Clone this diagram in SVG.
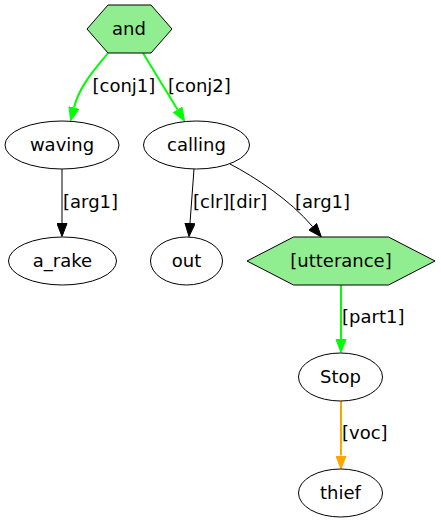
<svg xmlns="http://www.w3.org/2000/svg" width="441" height="523" viewBox="0 0 441 523">
<style>
text{font-family:"DejaVu Sans","Liberation Sans",sans-serif;font-size:18px;fill:#000}
.n{text-anchor:middle}
.node ellipse,.node polygon{stroke:#000;stroke-width:1}
.node ellipse{fill:#fff}
.hex{fill:#90ee90}
.e{fill:none;stroke-width:1}
.black{stroke:#000}
.green{stroke:#00ff00;stroke-width:2}
.orange{stroke:#ffa500;stroke-width:2}
</style>
<defs>
<marker id="ab" markerUnits="userSpaceOnUse" markerWidth="14" markerHeight="11" refX="0" refY="5.5" orient="auto" viewBox="0 0 14 11"><path d="M0.5,0.5 L13.5,5.5 L0.5,10.5 z" fill="#000" stroke="#000"/></marker>
<marker id="ag" markerUnits="userSpaceOnUse" markerWidth="14" markerHeight="11" refX="0" refY="5.5" orient="auto" viewBox="0 0 14 11"><path d="M0.5,0.5 L13.5,5.5 L0.5,10.5 z" fill="#00ff00" stroke="#00ff00"/></marker>
<marker id="ao" markerUnits="userSpaceOnUse" markerWidth="14" markerHeight="11" refX="0" refY="5.5" orient="auto" viewBox="0 0 14 11"><path d="M0.5,0.5 L13.5,5.5 L0.5,10.5 z" fill="#ffa500" stroke="#ffa500"/></marker>
</defs>
<rect width="441" height="523" fill="#fff"/>
<g id="edges">
<path class="e green" d="M108,53 C98,66 80,84 74,107.5" marker-end="url(#ag)"/>
<text x="92.5" y="92">[conj1]</text>
<path class="e green" d="M143,53 L177.5,109.5" marker-end="url(#ag)"/>
<text x="168" y="92">[conj2]</text>
<path class="e black" d="M62,169 L62,223" marker-end="url(#ab)"/>
<text x="63" y="208">[arg1]</text>
<path class="e black" d="M194,169 L190,223" marker-end="url(#ab)"/>
<text x="193" y="208">[clr][dir]</text>
<path class="e black" d="M230,164 C255,177 290,200 312.5,226.5" marker-end="url(#ab)"/>
<text x="295" y="208">[arg1]</text>
<path class="e green" d="M341,285 L341,339" marker-end="url(#ag)"/>
<text x="342" y="323">[part1]</text>
<path class="e orange" d="M341,401 L341,455.5" marker-end="url(#ao)"/>
<text x="342" y="439">[voc]</text>
</g>
<g id="and" class="node"><polygon class="hex" points="87,29 108,5 151,5 172,29 151,53 108,53"/><text class="n" x="129" y="35">and</text></g>
<g id="waving" class="node"><ellipse cx="62" cy="145" rx="57" ry="24"/><text class="n" x="62" y="151">waving</text></g>
<g id="calling" class="node"><ellipse cx="196.5" cy="145" rx="53" ry="24"/><text class="n" x="196.5" y="151">calling</text></g>
<g id="a_rake" class="node"><ellipse cx="62.5" cy="261" rx="54" ry="24"/><text class="n" x="62.5" y="267">a_rake</text></g>
<g id="out" class="node"><ellipse cx="186.5" cy="261" rx="36" ry="24"/><text class="n" x="186.5" y="267">out</text></g>
<g id="utterance" class="node"><polygon class="hex" points="247,261 293.5,237 388.5,237 435,261 388.5,285 293.5,285"/><text class="n" x="341" y="267">[utterance]</text></g>
<g id="Stop" class="node"><ellipse cx="340.5" cy="377" rx="42" ry="24"/><text class="n" x="340.5" y="383">Stop</text></g>
<g id="thief" class="node"><ellipse cx="340.5" cy="493" rx="42" ry="24"/><text class="n" x="340.5" y="499">thief</text></g>
</svg>
